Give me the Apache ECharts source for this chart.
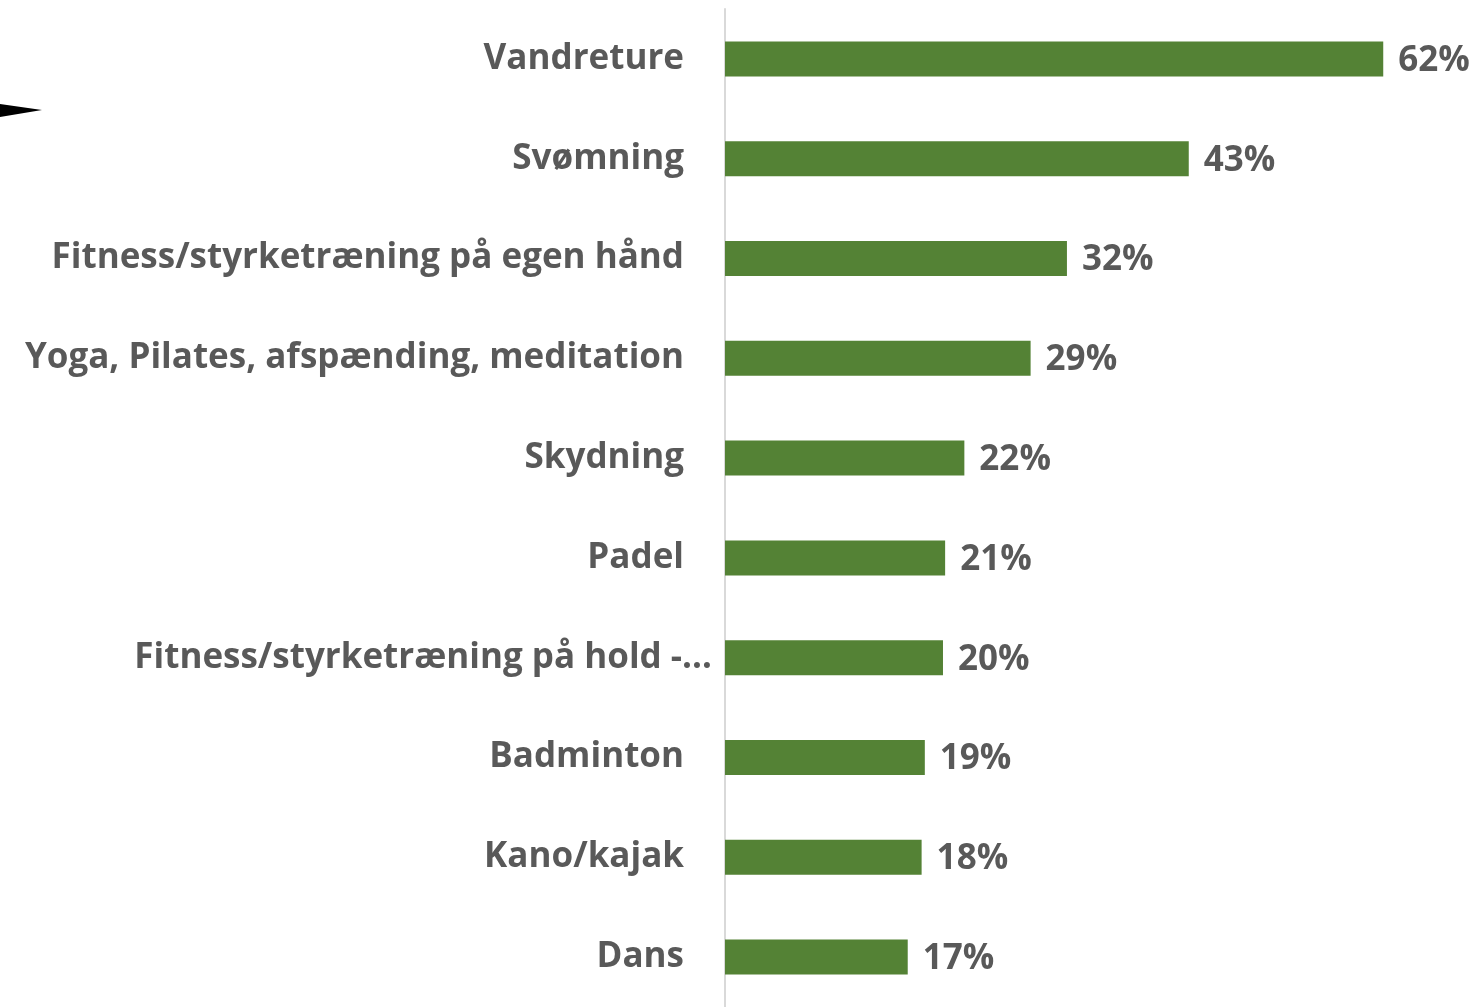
<!DOCTYPE html>
<html>
<head>
<meta charset="utf-8">
<script src="https://cdn.jsdelivr.net/npm/echarts@6/dist/echarts.min.js"></script>
<style>
  html, body { margin: 0; padding: 0; background: #fff; }
  #main { width: 1481px; height: 1007px; }
</style>
</head>
<body>
<div id="main"></div>
<script>
// categories top to bottom
const activities = [
  'Vandreture',
  'Svømning',
  'Fitness/styrketræning på egen hånd',
  'Yoga, Pilates, afspænding, meditation',
  'Skydning',
  'Padel',
  'Fitness/styrketræning på hold -…',
  'Badminton',
  'Kano/kajak',
  'Dans'
];
// share in percent
const shares = [61.6, 43.4, 32.0, 28.6, 22.4, 20.6, 20.4, 18.7, 18.4, 17.1];

const FONT = '"Open Sans"';
const GREY = '#595959';

const chart = echarts.init(document.getElementById('main'));

chart.setOption({
  animation: false,
  grid: { left: 725, top: 9, width: 748, height: 1002 },
  xAxis: {
    type: 'value',
    min: 0,
    max: 70,
    show: false
  },
  yAxis: {
    type: 'category',
    inverse: true,
    data: activities.map((name, i) => i === 6
      ? { value: name, textStyle: { padding: [4, -28, 0, 0] } }
      : name),
    axisTick: { show: false },
    axisLine: { show: true, lineStyle: { color: '#d9d9d9', width: 2 } },
    axisLabel: {
      margin: 41,
      padding: [4, 0, 0, 0],
      color: GREY,
      fontFamily: FONT,
      fontWeight: 'bold',
      fontSize: 35
    }
  },
  series: [{
    type: 'bar',
    data: shares,
    barWidth: 35,
    itemStyle: { color: '#548235' },
    label: {
      show: true,
      position: 'right',
      distance: 15,
      offset: [0, 2],
      color: GREY,
      fontFamily: FONT,
      fontWeight: 'bold',
      fontSize: 35,
      formatter: p => Math.round(p.value) + '%'
    }
  }],
  graphic: [{
    type: 'polygon',
    shape: { points: [[0, 104], [42, 110], [0, 117]] },
    style: { fill: '#000' }
  }]
});
</script>
</body>
</html>
